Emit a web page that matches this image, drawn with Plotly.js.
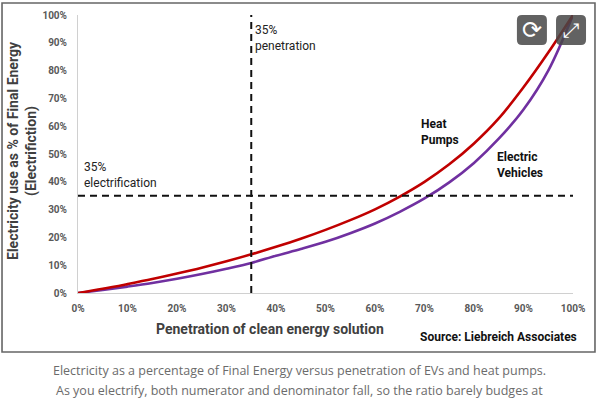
<!DOCTYPE html>
<html>
<head>
<meta charset="utf-8">
<script src="https://cdn.plot.ly/plotly-3.0.1.min.js"></script>
<style>
  html, body { margin: 0; padding: 0; background: #fff; }
  #chart { width: 600px; height: 400px; }
</style>
</head>
<body>
<div id="chart"></div>
<script>
// penetration of clean energy solution, % (x)
var penetration = [0, 5, 10, 15, 20, 25, 30, 35, 40, 45, 50, 55, 60, 65, 70, 75, 80, 85, 90, 95, 100];
// electricity use as % of final energy (y)
var heatPumps = [0, 1.5, 3.2, 5.0, 7.0, 9.1, 11.4, 13.9, 16.6, 19.5, 22.7, 26.2, 30.1, 34.7, 40, 46.3, 53.8, 62.8, 74, 86.5, 100];
var electricVehicles = [0, 1.1, 2.3, 3.6, 5.1, 6.8, 8.7, 10.8, 13.4, 15.8, 18.4, 21.5, 25, 29.2, 34, 39.8, 46.8, 55.5, 66, 80, 100];

var tickValues = [0, 10, 20, 30, 40, 50, 60, 70, 80, 90, 100];
var tickLabels = ['0%', '10%', '20%', '30%', '40%', '50%', '60%', '70%', '80%', '90%', '100%'];

var penetrationMarker = 35;     // vertical reference line
var electrificationMarker = 35; // horizontal reference line

var captionLines = [
  'Electricity as a percentage of Final Energy versus penetration of EVs and heat pumps.',
  'As you electrify, both numerator and denominator fall, so the ratio barely budges at'
];

var FONT = 'Roboto, "DejaVu Sans", sans-serif';

var traceEV = {
  x: penetration,
  y: electricVehicles,
  type: 'scatter',
  mode: 'lines',
  name: 'Electric Vehicles',
  line: {color: '#7030a0', width: 2.6, shape: 'spline'},
  cliponaxis: false,
  hoverinfo: 'skip'
};

var traceHP = {
  x: penetration,
  y: heatPumps,
  type: 'scatter',
  mode: 'lines',
  name: 'Heat Pumps',
  line: {color: '#c00000', width: 2.6, shape: 'spline'},
  cliponaxis: false,
  hoverinfo: 'skip'
};

var data = [traceEV, traceHP];

// rounded square used for the two overlay buttons
var roundBox = 'M -10,-15 L 10,-15 Q 15,-15 15,-10 L 15,10 Q 15,15 10,15 L -10,15 Q -15,15 -15,10 L -15,-10 Q -15,-15 -10,-15 Z';

function note(x, y, text, size, color, bold, extra) {
  var a = {
    xref: 'paper', yref: 'paper', x: x, y: y, xanchor: 'left', yanchor: 'middle',
    align: 'left', showarrow: false, text: text,
    font: {family: FONT, size: size, color: color, weight: bold ? 'bold' : 'normal'}
  };
  for (var k in extra) a[k] = extra[k];
  return a;
}

var layout = {
  width: 600,
  height: 400,
  margin: {l: 78, r: 27, t: 15, b: 107},
  paper_bgcolor: '#ffffff',
  plot_bgcolor: '#ffffff',
  showlegend: false,
  font: {family: FONT, color: '#222'},
  xaxis: {
    range: [0, 100],
    tickvals: tickValues,
    ticktext: tickLabels,
    showgrid: false,
    zeroline: false,
    showline: true,
    linecolor: '#d0d0d0',
    linewidth: 1,
    ticks: '',
    ticklabelstandoff: 6,
    tickfont: {family: FONT, size: 10, color: '#595959', weight: 'bold'},
    fixedrange: true
  },
  yaxis: {
    range: [0, 100],
    tickvals: tickValues,
    ticktext: tickLabels,
    showgrid: false,
    zeroline: false,
    showline: true,
    linecolor: '#d0d0d0',
    linewidth: 1,
    ticks: '',
    ticklabelstandoff: 8,
    tickfont: {family: FONT, size: 10, color: '#595959', weight: 'bold'},
    fixedrange: true
  },
  shapes: [
    {type: 'line', xref: 'x', yref: 'y', x0: penetrationMarker, x1: penetrationMarker, y0: 0, y1: 100,
     line: {color: '#111', width: 2, dash: '7px,5px'}},
    {type: 'line', xref: 'x', yref: 'y', x0: 0, x1: 100, y0: electrificationMarker, y1: electrificationMarker,
     line: {color: '#111', width: 2, dash: '7px,5px'}},
    // outer frame of the figure
    {type: 'rect', xref: 'paper', yref: 'paper', x0: -0.1535, x1: 1.0444, y0: -0.2122, y1: 1.0432,
     line: {color: '#666', width: 1.6}, layer: 'below'},
    // overlay buttons
    {type: 'path', xref: 'paper', yref: 'paper', xsizemode: 'pixel', ysizemode: 'pixel',
     xanchor: 0.917, yanchor: 0.946, path: roundBox, fillcolor: 'rgba(70,70,70,0.85)', line: {width: 0}},
    {type: 'path', xref: 'paper', yref: 'paper', xsizemode: 'pixel', ysizemode: 'pixel',
     xanchor: 0.996, yanchor: 0.946, path: roundBox, fillcolor: 'rgba(70,70,70,0.85)', line: {width: 0}}
  ],
  annotations: [
    note(-0.111, 0.511, 'Electricity use as % of Final Energy<br>(Electrifiction)', 14, '#404040', true,
         {textangle: -90, xanchor: 'center', align: 'center'}),
    note(0.388, -0.1295, 'Penetration of clean energy solution', 14, '#404040', true, {xanchor: 'center'}),
    note(1.012, -0.158, 'Source: Liebreich Associates', 12, '#111', true, {xanchor: 'right'}),
    note(0.354, 0.917, '35%<br>penetration', 12, '#222', false),
    note(0.008, 0.4245, '35%<br>electrification', 12, '#222', false),
    note(0.688, 0.579, 'Heat<br>Pumps', 12, '#111', true),
    note(0.842, 0.4604, 'Electric<br>Vehicles', 12, '#111', true),
    {xref: 'paper', yref: 'paper', x: 0.917, y: 0.946, xanchor: 'center', yanchor: 'middle',
     showarrow: false, text: '⟳', font: {family: '"DejaVu Sans"', size: 24, color: '#fff'}},
    {xref: 'paper', yref: 'paper', x: 0.996, y: 0.946, xanchor: 'center', yanchor: 'middle',
     showarrow: false, text: '⤢', font: {family: '"DejaVu Sans"', size: 20, color: '#fff'}},
    {xref: 'paper', yref: 'paper', x: 0.448, y: -0.277, xanchor: 'center', yanchor: 'middle',
     showarrow: false, text: captionLines[0],
     font: {family: '"Open Sans", sans-serif', size: 12.5, color: '#6b6b6b'}},
    {xref: 'paper', yref: 'paper', x: 0.448, y: -0.3525, xanchor: 'center', yanchor: 'middle',
     showarrow: false, text: captionLines[1],
     font: {family: '"Open Sans", sans-serif', size: 12.5, color: '#6b6b6b'}}
  ]
};

Plotly.newPlot('chart', data, layout, {displayModeBar: false, staticPlot: true});
</script>
</body>
</html>
